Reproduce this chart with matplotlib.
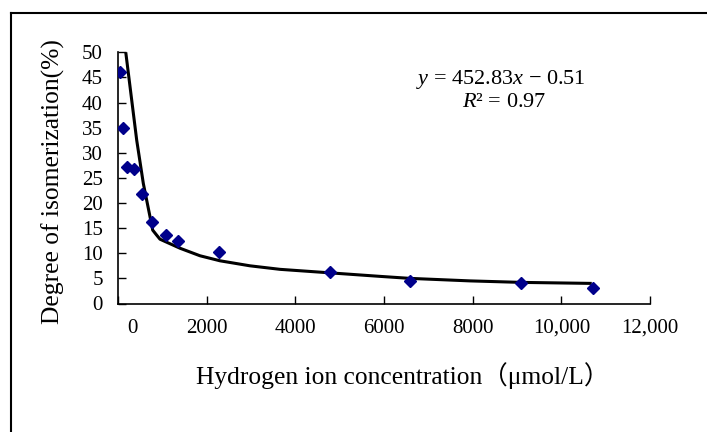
import numpy as np
import matplotlib
matplotlib.use('Agg')
import matplotlib.pyplot as plt
from matplotlib.lines import Line2D
from matplotlib.transforms import ScaledTranslation

plt.rcParams['font.family'] = ['Liberation Serif', 'Noto Sans CJK SC']
plt.rcParams['mathtext.fontset'] = 'custom'
plt.rcParams['mathtext.rm'] = 'Liberation Serif'
plt.rcParams['mathtext.it'] = 'Liberation Serif:italic'

# measured points
conc = [45, 106, 210, 361, 548, 774, 1076, 1347, 2285, 4782, 6587, 9091, 10708]
degree = [46.0, 34.9, 27.2, 26.7, 21.7, 16.3, 13.7, 12.4, 10.2, 6.3, 4.5, 4.0, 3.0]

# fitted curve
fit_x = [175, 309, 422, 571, 783, 873, 947, 1399, 1850, 2301, 2978, 3654, 4782,
         5910, 6587, 7940, 9106, 10686]
fit_y = [50.0, 40.5, 32.5, 23.9, 14.6, 13.6, 12.8, 11.0, 9.5, 8.5, 7.5, 6.8, 6.1,
         5.4, 5.0, 4.5, 4.2, 4.0]

xticks = [0, 2000, 4000, 6000, 8000, 10000, 12000]
xticklabels = ['0', '2000', '4000', '6000', '8000', '10,000', '12,000']
yticks = np.arange(0, 51, 5)

fig = plt.figure(figsize=(7.07, 4.32), dpi=100)
ax = fig.add_axes([118/707, 1-303.5/432, (650-118)/707, (303.5-52.3)/432])

ax.plot(fit_x, fit_y, color='black', lw=2.2, solid_capstyle='butt', zorder=2)
ax.plot(conc, degree, 'D', color='#00008B', ms=6, zorder=3)

ax.set_xlim(0, 12000)
ax.set_ylim(0, 50)
ax.set_xticks(xticks)
ax.set_xticklabels(xticklabels)
ax.set_yticks(yticks)
for s in ['top', 'right']:
    ax.spines[s].set_visible(False)
ax.spines['left'].set_linewidth(1.2)
ax.spines['bottom'].set_linewidth(1.2)
ax.tick_params(direction='in', length=6, width=1, labelsize=15, pad=11)

# the "0" label sits a bit right of its tick in the original
lab0 = ax.get_xticklabels()[0]
lab0.set_transform(lab0.get_transform() + ScaledTranslation(14/100, 0, fig.dpi_scale_trans))

ax.set_ylabel('Degree of isomerization(%)', fontsize=18.4)
ax.set_xlabel('Hydrogen ion concentration（μmol/L）', fontsize=18.4)
ax.yaxis.set_label_coords(-0.1, 0.484)
ax.xaxis.set_label_coords(0.535, -0.235)

ax.text(0.72, 0.892, r'$y$ = 452.83$x$ − 0.51', transform=ax.transAxes,
        fontsize=16, ha='center', va='center')
ax.text(0.725, 0.80, r'$R$² = 0.97', transform=ax.transAxes,
        fontsize=16, ha='center', va='center')

# outer frame (left and top edges)
fig.add_artist(Line2D([11/707, 11/707], [0, 1-12.5/432], color='black', lw=1.5))
fig.add_artist(Line2D([11/707, 1], [1-12.5/432, 1-12.5/432], color='black', lw=1.5))

fig.savefig('out.png', dpi=100)
